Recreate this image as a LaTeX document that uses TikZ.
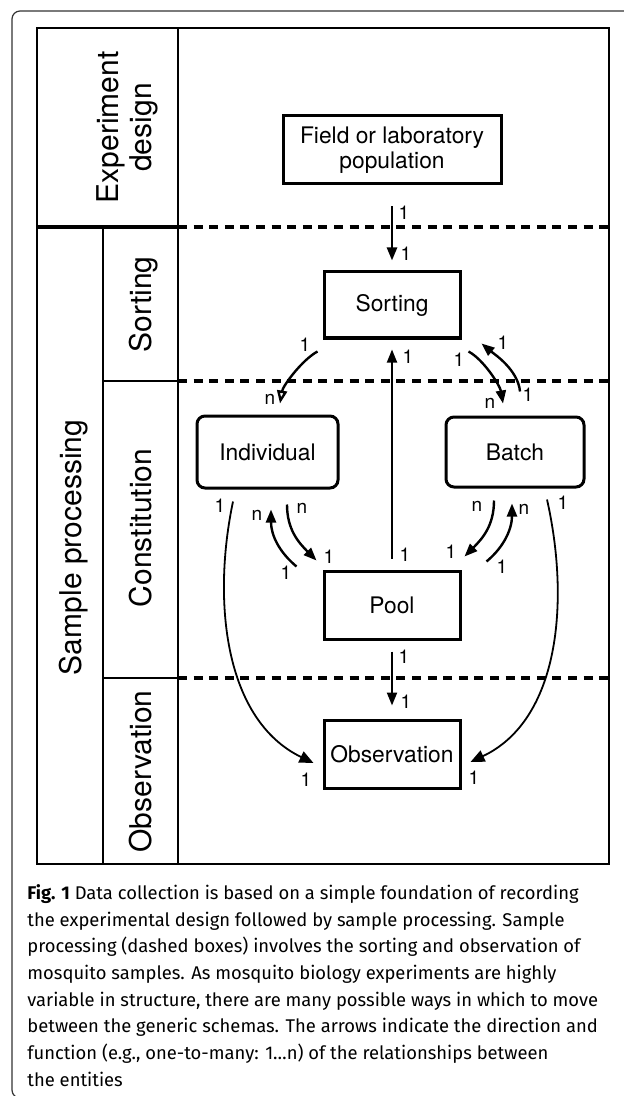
\documentclass[tikz,border=0pt]{standalone}
\usepackage{fontspec}
\setmainfont{TeX Gyre Heros}
\newfontfamily\capfont{Fira Sans}
\usetikzlibrary{arrows.meta,calc}

\begin{document}
\begin{tikzpicture}[x=0.5pt, y=-0.5pt,
    box/.style={draw, line width=1.5pt, minimum width=68pt, minimum height=34pt,
      inner sep=0pt, align=center, font=\fontsize{11.4}{12.5}\selectfont},
    rbox/.style={box, rounded corners=4pt},
    side/.style={rotate=90, inner sep=0pt, font=\fontsize{15}{16.5}\selectfont},
    lab/.style={inner sep=0pt, font=\fontsize{9.5}{10}\selectfont},
    arr/.style={line width=1.2pt, -{Triangle[length=6.5pt, width=5pt]}},
    thinarr/.style={line width=0.9pt, -{Triangle[length=7pt, width=6pt]}},
    sep/.style={line width=1.6pt, dash pattern=on 4.5pt off 3.3pt}]

  \useasboundingbox (0,0) rectangle (624,1096);

  % caption frame
  \draw[line width=0.6pt, black!80, rounded corners=4pt] (12,11) rectangle (660,1098);

  % lanes
  \draw[line width=1.35pt] (37,28) rectangle (609,864);
  \draw[line width=1.35pt] (178,28) -- (178,864);
  \draw[line width=1.35pt] (103,227) -- (103,864);
  \draw[line width=2pt] (37,227) -- (178,227);
  \draw[line width=1.35pt] (103,381) -- (178,381);
  \draw[line width=1.35pt] (103,678) -- (178,678);
  \draw[sep] (178,227) -- (609,227);
  \draw[sep] (178,381) -- (609,381);
  \draw[sep] (178,678) -- (609,678);

  \node[side, align=center] (expt) at (127,127.5) {Experiment\\design};
  \node[side, anchor=base] (samp) at (81,547.5) {Sample processing};
  \node[side, anchor=base] (srt) at (151,304.5) {Sorting};
  \node[side, anchor=base] (cons) at (151,528) {Constitution};
  \node[side, anchor=base] (obsv) at (151,771.5) {Observation};

  % entities
  \node[box, minimum width=109pt] (field) at (392,150) {Field or laboratory\\population};
  \node[box, minimum height=33pt] (sort) at (392,305) {Sorting};
  \node[rbox, minimum width=70.5pt, minimum height=36pt] (ind) at (267.5,452) {Individual};
  \node[rbox, minimum width=69pt, minimum height=35pt] (batch) at (515,452) {Batch};
  \node[box] (pool) at (392,605) {Pool};
  \node[box] (obs) at (392,754) {Observation};

  % relationships
  \draw[arr] ($(field.south)+(0,21)$) -- ($(sort.north)+(0,-10)$);
  \draw[arr, line width=0.9pt] ($(pool.north)+(0,-11)$) -- ($(sort.south)+(0,10)$);
  \draw[arr, line width=1.1pt] ($(pool.south)+(0,11)$) -- ($(obs.north)+(0,-13)$);

  \draw[arr, -{Triangle[open, length=6.5pt, width=5pt]}] ($(sort.south west)+(-5,12)$)
    .. controls +(-15,8) and +(3,-18) .. ($(ind.north)+(12.5,-11)$);
  \draw[arr] ($(sort.south east)+(7,12)$)
    .. controls +(15,8) and +(-3,-18) .. ($(batch.north)+(-12,-12)$);
  \draw[arr] ($(batch.north)+(5,-24)$)
    .. controls +(-2,-22) and +(12,10) .. ($(sort.south east)+(20,4)$);

  \draw[arr] ($(ind.south)+(19.5,15)$)
    .. controls +(0,25) and +(-18,-18) .. ($(pool.north west)+(-6,-9)$);
  \draw[arr] ($(pool.north west)+(-26,-3)$)
    .. controls +(-18,-15) and +(0,25) .. ($(ind.south)+(3.5,20)$);
  \draw[arr] ($(batch.south)+(-21,12)$)
    .. controls +(0,25) and +(18,-18) .. ($(pool.north east)+(3,-13)$);
  \draw[arr] ($(pool.north east)+(25,-8)$)
    .. controls +(18,-15) and +(0,25) .. ($(batch.south)+(-3,15)$);

  \draw[thinarr] ($(ind.south)+(-34.5,12)$)
    .. controls +(-21,100) and +(-89,-43) .. ($(obs.west)+(-9,9)$);
  \draw[thinarr] ($(batch.south)+(32,11)$)
    .. controls +(23,102) and +(89,-42) .. ($(obs.east)+(9,8)$);

  % cardinalities
  \node[lab] (c1a) at (404,213) {1};
  \node[lab] (c1b) at (406,254) {1};
  \node[lab] (c2a) at (408,357) {1};
  \node[lab] (c2b) at (405,555) {1};
  \node[lab] (c3a) at (404,657) {1};
  \node[lab] (c3b) at (406,702) {1};
  \node[lab] (c4a) at (305,345) {1};
  \node[lab] (c4b) at (270,399) {n};
  \node[lab] (c5a) at (459,360) {1};
  \node[lab] (c5b) at (490,403) {n};
  \node[lab] (c6a) at (503,343) {1};
  \node[lab] (c6b) at (528,395) {1};
  \node[lab] (c7a) at (302,508) {n};
  \node[lab] (c7b) at (329,557) {1};
  \node[lab] (c8a) at (257,515) {n};
  \node[lab] (c8b) at (286,573) {1};
  \node[lab] (c9a) at (477,506) {n};
  \node[lab] (c9b) at (451,552) {1};
  \node[lab] (c10a) at (524,509) {n};
  \node[lab] (c10b) at (502,567) {1};
  \node[lab] (c11a) at (220,506) {1};
  \node[lab] (c11b) at (306,780) {1};
  \node[lab] (c12a) at (563,503) {1};
  \node[lab] (c12b) at (474,778) {1};

  % caption
  \node[anchor=north west, align=left, inner sep=0pt,
    font={\capfont\fontsize{9.2}{13.35}\selectfont}] (capt) at (27,884)
    {\textbf{Fig. 1} Data collection is based on a simple foundation of recording\\
     the experimental design followed by sample processing. Sample\\
     processing (dashed boxes) involves the sorting and observation of\\
     mosquito samples. As mosquito biology experiments are highly\\
     variable in structure, there are many possible ways in which to move\\
     between the generic schemas. The arrows indicate the direction and\\
     function (e.g., one-to-many: 1…n) of the relationships between\\
     the entities};
\end{tikzpicture}
\end{document}
